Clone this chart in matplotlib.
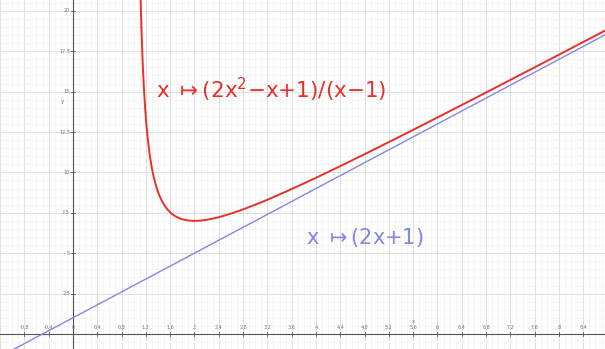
import numpy as np
import matplotlib.pyplot as plt
from matplotlib.ticker import MultipleLocator

# coefficients
num_coef = [2, -1, 1]      # 2x^2 - x + 1
den_coef = [1, -1]         # x - 1
asym_coef = [2, 1]         # 2x + 1

x_ticks = [-0.8, -0.4, 0, 0.4, 0.8, 1.2, 1.6, 2, 2.4, 2.8, 3.2, 3.6, 4,
           4.4, 4.8, 5.2, 5.6, 6, 6.4, 6.8, 7.2, 7.6, 8, 8.4]
y_ticks = [2.5, 5, 7.5, 10, 12.5, 15, 17.5, 20]

red_label = r'x $\mapsto$(2x$^{2}$$-$x+1)/(x$-$1)'
blue_label = r'x $\mapsto$(2x+1)'

red = '#e8302a'
blue = '#8585e6'

fig = plt.figure(figsize=(6.05, 3.49), dpi=100)
ax = fig.add_axes([0, 0, 1, 1])
ax.set_xlim(-1.20, 8.757)
ax.set_ylim(-0.93, 20.67)

# grid
ax.xaxis.set_minor_locator(MultipleLocator(0.1))
ax.yaxis.set_minor_locator(MultipleLocator(0.5))
ax.xaxis.set_major_locator(MultipleLocator(0.4))
ax.yaxis.set_major_locator(MultipleLocator(2.5))
ax.grid(which='major', color='#dedede', lw=0.7)
ax.grid(which='minor', color='#f2f2f2', lw=0.5)
ax.tick_params(which='both', length=0, labelbottom=False, labelleft=False)
for s in ax.spines.values():
    s.set_visible(False)

# axes through the origin
ax.axhline(0, color='#555555', lw=0.8)
ax.axvline(0, color='#555555', lw=0.8)
for t in x_ticks:
    ax.plot([t, t], [-0.12, 0.12], color='#555555', lw=0.6)
    ax.text(t, 0.25, f'{t:g}', fontsize=3.5, color='#777777', ha='center', va='bottom')
for t in y_ticks:
    ax.plot([-0.03, 0.03], [t, t], color='#555555', lw=0.6)
    ax.text(-0.05, t, f'{t:g}', fontsize=3.5, color='#777777', ha='right', va='center')
ax.text(5.6, 0.7, 'x', fontsize=4, color='#777777', ha='center')
ax.text(-0.18, 14.3, 'y', fontsize=4, color='#777777', ha='center')

# curves
xs = np.linspace(1.1, 8.8, 800)
ax.plot(xs, np.polyval(num_coef, xs) / np.polyval(den_coef, xs), color=red, lw=1.4)
xl = np.linspace(-1.3, 8.8, 10)
ax.plot(xl, np.polyval(asym_coef, xl), color=blue, lw=1.0)

ax.text(1.37, 15.1, red_label, color=red, fontsize=15.5, va='center')
ax.text(3.83, 5.98, blue_label, color=blue, fontsize=15, va='center')

fig.savefig('out.png', dpi=100)
